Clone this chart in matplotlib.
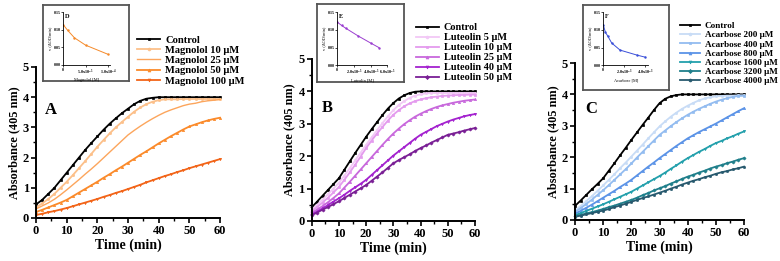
import numpy as np
import matplotlib
matplotlib.use('Agg')
import matplotlib.pyplot as plt
from matplotlib.ticker import MultipleLocator

plt.rcParams['font.family'] = 'Liberation Serif'
plt.rcParams['font.weight'] = 'bold'
plt.rcParams['mathtext.default'] = 'regular'

# time points (min)
time = list(range(0, 61, 2))

# Panel A - Magnolol
ctrl_a = [0.45, 0.6, 0.8, 1.0, 1.25, 1.5, 1.75, 2.0, 2.25, 2.48, 2.7, 2.92, 3.12, 3.3, 3.47, 3.62, 3.77, 3.88, 3.95, 3.98,
          4.0, 4.0, 4.0, 4.0, 4.0, 4.0, 4.0, 4.0, 4.0, 4.0, 4.0]
mag10 = [0.35, 0.48, 0.63, 0.8, 1.0, 1.2, 1.42, 1.65, 1.88, 2.12, 2.36, 2.58, 2.8, 3.0, 3.18, 3.35, 3.52, 3.66, 3.77, 3.85,
         3.9, 3.93, 3.93, 3.93, 3.94, 3.94, 3.94, 3.94, 3.94, 3.94, 3.94]
mag25 = [0.3, 0.4, 0.5, 0.62, 0.77, 0.93, 1.1, 1.27, 1.45, 1.62, 1.8, 1.99, 2.18, 2.37, 2.56, 2.75, 2.9, 3.04, 3.17, 3.29,
         3.4, 3.5, 3.58, 3.65, 3.72, 3.77, 3.8, 3.85, 3.88, 3.9, 3.92]
mag50 = [0.2, 0.27, 0.35, 0.43, 0.51, 0.6, 0.72, 0.84, 0.96, 1.08, 1.2, 1.33, 1.45, 1.58, 1.7, 1.83, 1.96, 2.09, 2.21, 2.34,
         2.47, 2.59, 2.71, 2.82, 2.93, 3.03, 3.1, 3.17, 3.23, 3.28, 3.32]
mag100 = [0.1, 0.14, 0.19, 0.23, 0.28, 0.33, 0.39, 0.45, 0.51, 0.57, 0.63, 0.7, 0.76, 0.83, 0.89, 0.96, 1.03, 1.1, 1.18, 1.25,
          1.32, 1.39, 1.45, 1.52, 1.58, 1.65, 1.71, 1.77, 1.83, 1.89, 1.95]

# Panel B - Luteolin
ctrl_b = [0.42, 0.6, 0.78, 0.96, 1.14, 1.32, 1.58, 1.84, 2.1, 2.35, 2.6, 2.83, 3.05, 3.27, 3.47, 3.64, 3.78, 3.88, 3.95, 3.99,
          4.0, 4.0, 4.0, 4.0, 4.0, 4.0, 4.0, 4.0, 4.0, 4.0, 4.0]
lut5 = [0.35, 0.5, 0.66, 0.83, 1.0, 1.18, 1.4, 1.63, 1.87, 2.11, 2.35, 2.58, 2.8, 3.02, 3.23, 3.42, 3.58, 3.7, 3.8, 3.87,
        3.91, 3.94, 3.95, 3.95, 3.95, 3.95, 3.95, 3.95, 3.95, 3.95, 3.95]
lut10 = [0.3, 0.43, 0.57, 0.72, 0.88, 1.05, 1.27, 1.5, 1.74, 1.99, 2.25, 2.48, 2.7, 2.9, 3.1, 3.28, 3.42, 3.54, 3.63, 3.7,
         3.75, 3.79, 3.82, 3.84, 3.86, 3.87, 3.88, 3.89, 3.89, 3.9, 3.9]
lut25 = [0.25, 0.35, 0.46, 0.58, 0.71, 0.85, 1.03, 1.21, 1.4, 1.59, 1.78, 1.97, 2.16, 2.35, 2.53, 2.7, 2.85, 2.99, 3.11, 3.22,
         3.31, 3.39, 3.46, 3.52, 3.57, 3.61, 3.65, 3.68, 3.71, 3.73, 3.75]
lut40 = [0.2, 0.29, 0.39, 0.49, 0.6, 0.7, 0.81, 0.93, 1.04, 1.15, 1.27, 1.42, 1.57, 1.72, 1.87, 2.02, 2.15, 2.28, 2.41, 2.54,
         2.66, 2.75, 2.84, 2.93, 3.0, 3.07, 3.13, 3.18, 3.23, 3.27, 3.3]
lut50 = [0.18, 0.26, 0.35, 0.43, 0.52, 0.61, 0.71, 0.81, 0.91, 1.01, 1.11, 1.24, 1.37, 1.5, 1.64, 1.78, 1.88, 1.97, 2.06, 2.16,
         2.25, 2.33, 2.42, 2.5, 2.58, 2.66, 2.7, 2.74, 2.79, 2.83, 2.87]

# Panel C - Acarbose
ctrl_c = [0.45, 0.62, 0.8, 0.98, 1.15, 1.33, 1.57, 1.81, 2.06, 2.3, 2.55, 2.79, 3.03, 3.26, 3.5, 3.72, 3.86, 3.94, 3.98, 4.0,
          4.0, 4.0, 4.0, 4.0, 4.0, 4.0, 4.0, 4.0, 4.0, 4.0, 4.0]
aca200 = [0.3, 0.45, 0.6, 0.76, 0.93, 1.1, 1.28, 1.46, 1.65, 1.83, 2.02, 2.21, 2.4, 2.6, 2.79, 2.98, 3.14, 3.29, 3.42, 3.54,
          3.64, 3.73, 3.81, 3.87, 3.91, 3.94, 3.95, 3.96, 3.96, 3.97, 3.97]
aca400 = [0.25, 0.38, 0.51, 0.65, 0.8, 0.95, 1.11, 1.28, 1.45, 1.62, 1.8, 1.99, 2.17, 2.35, 2.53, 2.71, 2.85, 2.99, 3.12, 3.24,
          3.35, 3.45, 3.54, 3.62, 3.7, 3.77, 3.83, 3.88, 3.92, 3.95, 3.96]
aca800 = [0.2, 0.29, 0.39, 0.49, 0.6, 0.71, 0.82, 0.93, 1.05, 1.16, 1.28, 1.42, 1.56, 1.7, 1.83, 1.97, 2.1, 2.23, 2.36, 2.48,
          2.6, 2.7, 2.8, 2.89, 2.98, 3.07, 3.17, 3.27, 3.37, 3.47, 3.56]
aca1600 = [0.15, 0.22, 0.29, 0.36, 0.43, 0.5, 0.58, 0.66, 0.74, 0.82, 0.9, 1.0, 1.1, 1.2, 1.3, 1.4, 1.51, 1.63, 1.74, 1.86,
           1.97, 2.07, 2.17, 2.26, 2.36, 2.45, 2.52, 2.6, 2.67, 2.75, 2.82]
aca3200 = [0.12, 0.16, 0.21, 0.25, 0.3, 0.35, 0.41, 0.46, 0.52, 0.58, 0.64, 0.71, 0.79, 0.86, 0.94, 1.01, 1.08, 1.16, 1.23, 1.31,
           1.38, 1.44, 1.51, 1.57, 1.64, 1.7, 1.75, 1.81, 1.86, 1.92, 1.97]
aca4000 = [0.1, 0.14, 0.18, 0.22, 0.26, 0.3, 0.35, 0.41, 0.46, 0.52, 0.58, 0.64, 0.7, 0.75, 0.81, 0.87, 0.93, 1.0, 1.06, 1.13,
           1.19, 1.25, 1.3, 1.36, 1.41, 1.47, 1.52, 1.56, 1.61, 1.65, 1.7]

# inset data: rate vs inhibitor concentration
mag_conc = [0, 1e-5, 2.5e-5, 5e-5, 1e-4]
mag_rate = [0.114, 0.098, 0.077, 0.056, 0.030]
lut_conc = [0, 5e-6, 1e-5, 2.5e-5, 4e-5, 5e-5]
lut_rate = [0.122, 0.113, 0.105, 0.083, 0.063, 0.050]
aca_conc = [0, 2e-4, 4e-4, 8e-4, 1.6e-3, 3.2e-3, 4e-3]
aca_rate = [0.114, 0.093, 0.084, 0.063, 0.043, 0.029, 0.023]

labels_a = ['Control', 'Magnolol 10 μM', 'Magnolol 25 μM', 'Magnolol 50 μM', 'Magnolol 100 μM']
labels_b = ['Control', 'Luteolin 5 μM', 'Luteolin 10 μM', 'Luteolin 25 μM', 'Luteolin 40 μM', 'Luteolin 50 μM']
labels_c = ['Control', 'Acarbose 200 μM', 'Acarbose 400 μM', 'Acarbose 800 μM', 'Acarbose 1600 μM',
            'Acarbose 3200 μM', 'Acarbose 4000 μM']

fig = plt.figure(figsize=(7.8, 2.61), dpi=100)


def main_panel(rect, series, labels, colors, markers, letter, letter_xy, leg_xy, leg_fs):
    ax = fig.add_axes(rect)
    for y, lab, c, m in zip(series, labels, colors, markers):
        # plain line (no marker) is drawn thinner, like the 25 uM magnolol curve
        lw = 1.0 if m is None else 1.3
        ax.plot(time, y, c=c, lw=lw, marker=m, ms=1.6, mew=0.5, label=lab, clip_on=False)
    ax.set_xlim(0, 60)
    ax.set_ylim(0, 5)
    ax.xaxis.set_major_locator(MultipleLocator(10))
    ax.xaxis.set_minor_locator(MultipleLocator(5))
    ax.yaxis.set_major_locator(MultipleLocator(1))
    ax.yaxis.set_minor_locator(MultipleLocator(0.5))
    for s in ['top', 'right']:
        ax.spines[s].set_visible(False)
    for s in ['left', 'bottom']:
        ax.spines[s].set_linewidth(1.4)
    ax.tick_params(which='major', length=3.5, width=1.2, labelsize=9, pad=1.5)
    ax.tick_params(which='minor', length=2, width=1.0)
    ax.set_xlabel('Time (min)', fontsize=10, fontweight='bold', labelpad=1)
    ax.set_ylabel('Absorbance (405 nm)', fontsize=8.8, fontweight='bold', labelpad=2)
    ax.text(letter_xy[0], letter_xy[1], letter, fontsize=12, fontweight='bold', va='center', ha='left')
    fig.legend(*ax.get_legend_handles_labels(), loc='upper left', bbox_to_anchor=leg_xy,
               frameon=False, fontsize=leg_fs, handlelength=2.2, handletextpad=0.5,
               labelspacing=0.08, borderpad=0, borderaxespad=0, markerscale=1.3)
    return ax


def inset(box, rect, x, y, color, letter, xlim, xticks, xticklabels, xlabel):
    # grey frame behind the small plot
    frame = fig.add_axes(box)
    frame.set_xticks([])
    frame.set_yticks([])
    for s in frame.spines.values():
        s.set_linewidth(1.3)
        s.set_edgecolor('#555555')
    ax = fig.add_axes(rect)
    ax.patch.set_alpha(0)
    ax.plot(x, y, c=color, lw=0.7, marker='.', ms=1.5)
    ax.set_xlim(*xlim)
    ax.set_ylim(0, 0.15)
    ax.set_yticks([0, 0.05, 0.10, 0.15])
    ax.set_yticklabels(['0.00', '0.05', '0.10', '0.15'])
    ax.set_xticks(xticks)
    ax.set_xticklabels(xticklabels)
    for s in ['top', 'right']:
        ax.spines[s].set_visible(False)
    for s in ['left', 'bottom']:
        ax.spines[s].set_linewidth(0.6)
    ax.tick_params(length=1.2, width=0.5, labelsize=3, pad=0.8)
    ax.set_xlabel(xlabel, fontsize=3.2, labelpad=0.8, fontweight='normal')
    ax.set_ylabel('v (ΔOD/min)', fontsize=3.2, labelpad=0.8, fontweight='normal')
    ax.text(0.04, 0.97, letter, transform=ax.transAxes, fontsize=4.5, fontweight='bold', va='top')


# Panel A
main_panel([0.0462, 0.1648, 0.2359, 0.5785],
           [ctrl_a, mag10, mag25, mag50, mag100], labels_a,
           ['black', '#fcc08a', '#fca55c', '#fb8a2a', '#f26418'],
           ['s', 'o', None, '^', 'v'], 'A', (3.0, 3.58), (0.1756, 0.865), 7.6)
inset([0.0551, 0.6897, 0.1103, 0.2912], [0.0812, 0.752, 0.0599, 0.2008],
      mag_conc, mag_rate, '#f58a2a', 'D', (0, 1.05e-4), [0, 5e-5, 1e-4],
      ['0', r'5.0x10$^{-5}$', r'1.0x10$^{-4}$'], 'Magnolol [M]')

# Panel B
main_panel([0.3996, 0.1533, 0.2094, 0.6207],
           [ctrl_b, lut5, lut10, lut25, lut40, lut50], labels_b,
           ['black', '#f2c8f6', '#e49bee', '#c868dc', '#a422cf', '#7a1f95'],
           ['s', 'o', 's', '^', 'v', 'D'], 'B', (3.8, 3.49), (0.5333, 0.912), 7.4)
inset([0.4064, 0.6858, 0.1115, 0.2989], [0.4325, 0.7498, 0.0641, 0.2031],
      lut_conc, lut_rate, '#9b3fd0', 'E', (0, 6e-5), [0, 2e-5, 4e-5, 6e-5],
      ['0', r'2.0x10$^{-5}$', r'4.0x10$^{-5}$', r'6.0x10$^{-5}$'], 'Luteolin [M]')

# Panel C
main_panel([0.7372, 0.1571, 0.2167, 0.6015],
           [ctrl_c, aca200, aca400, aca800, aca1600, aca3200, aca4000], labels_c,
           ['black', '#c8dcf6', '#93bcf0', '#5b93e7', '#23a0ac', '#1f7f8b', '#27596e'],
           ['s', 'o', 's', '^', 'v', 'D', 'o'], 'C', (3.5, 3.53), (0.8718, 0.916), 6.6)
inset([0.7474, 0.6552, 0.1103, 0.3257], [0.7735, 0.7498, 0.0577, 0.2031],
      aca_conc, aca_rate, '#3a4fd8', 'F', (0, 4.3e-3), [0, 2e-3, 4e-3],
      ['0', r'2.0x10$^{-3}$', r'4.0x10$^{-3}$'], 'Acarbose [M]')

fig.savefig('out.png', dpi=100)
